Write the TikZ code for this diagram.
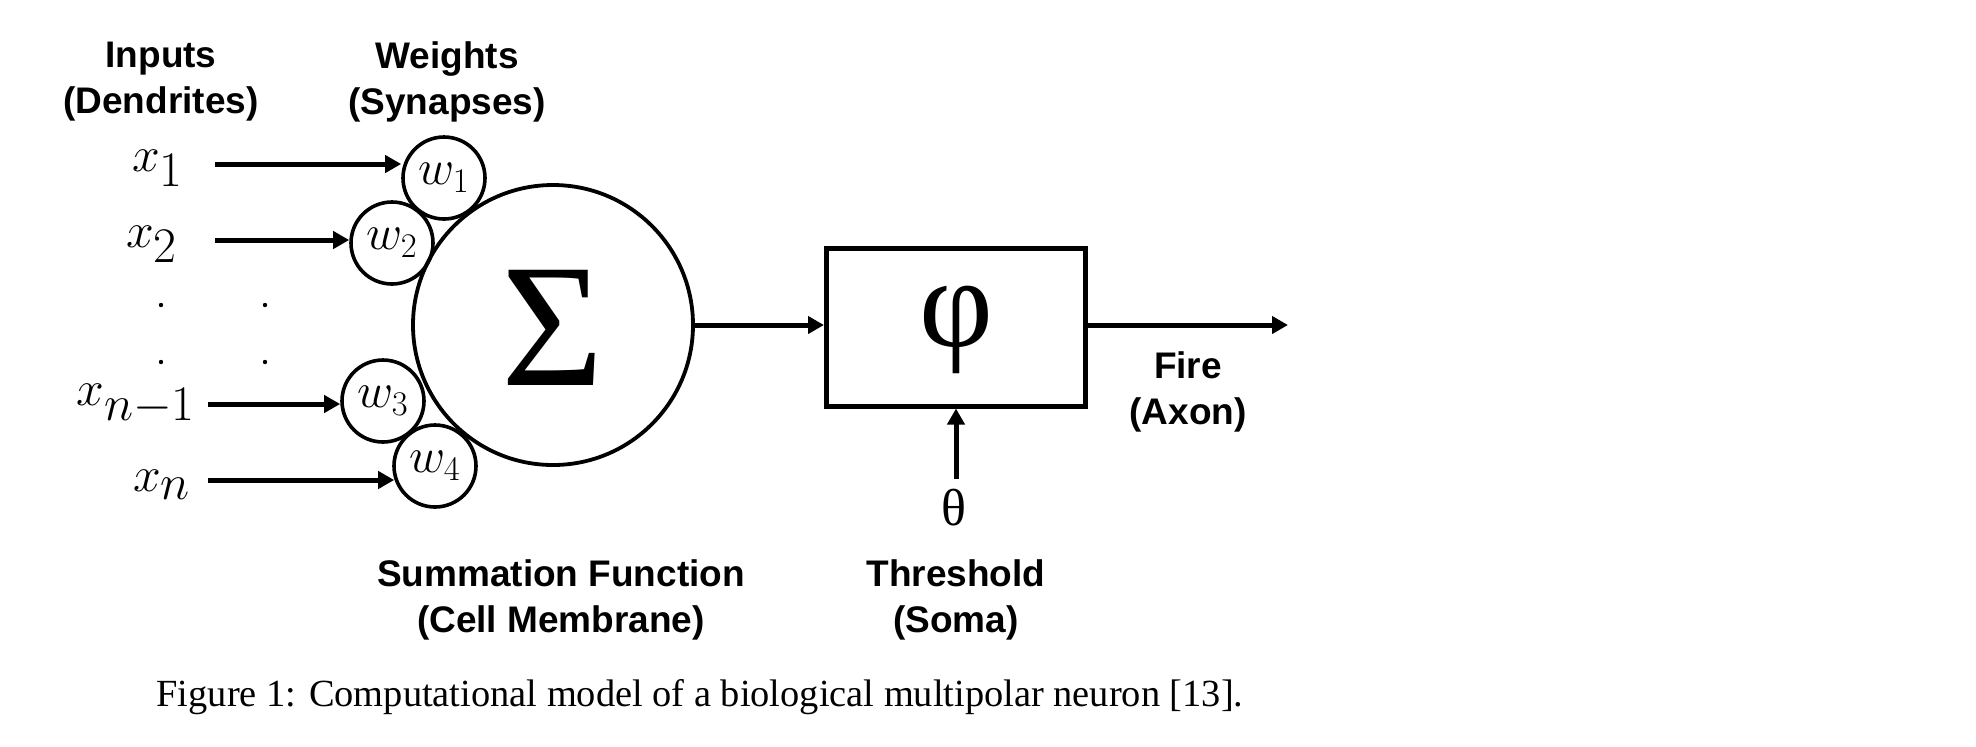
\documentclass[tikz,border=0pt]{standalone}
\usepackage{fontspec}
\setmainfont{Liberation Serif}
\newfontfamily\labelfont{Liberation Sans}
\usetikzlibrary{arrows.meta,calc}
\begin{document}
\begin{tikzpicture}[x=0.5pt,y=-0.5pt,
  lbl/.style={font=\labelfont\bfseries\fontsize{18.5}{23}\selectfont, align=center, inner sep=0pt},
  xlab/.style={font=\fontsize{37}{37}\selectfont, inner sep=0pt},
  arr/.style={line width=2.5pt,-{Triangle[length=8pt,width=8.5pt]}},
  wc/.style={circle,draw,line width=1.8pt,minimum size=41pt,inner sep=0pt,font=\fontsize{25}{25}\selectfont},
  dotmark/.style={circle,fill,inner sep=0pt,minimum size=2.2pt}]
\useasboundingbox (0,0) rectangle (1976,746);
% headers
\node[lbl] (hin) at (161,82) {Inputs\\(Dendrites)};
\node[lbl] (hw) at (447,82) {Weights\\(Synapses)};
% summation
\node[circle,draw,line width=1.9pt,minimum size=140pt,inner sep=0pt] (sum) at (553,325) {};
\node[font=\fontsize{88}{88}\selectfont, inner sep=0pt] (sig) at (553,328) {Σ};
% weights
\node[wc] (w1) at (444,178) {$w_1$};
\node[wc] (w2) at (392,243) {$w_2$};
\node[wc] (w3) at (383,401) {$w_3$};
\node[wc] (w4) at (435,466) {$w_4$};
% inputs
\node[xlab] (x1) at (158,168) {$x_1$};
\node[xlab] (x2) at (152,244) {$x_2$};
\node[xlab] (x3) at (136,404) {$x_{n-1}$};
\node[xlab] (x4) at (162,485) {$x_n$};
\coordinate (s1) at (215,164);
\coordinate (s2) at (215,240);
\coordinate (s3) at (208,404);
\coordinate (s4) at (208,480);
\draw[arr] (s1) -- (s1 -| w1.west);
\draw[arr] (s2) -- (s2 -| w2.west);
\draw[arr] (s3) -- (s3 -| w3.west);
\draw[arr] (s4) -- ($(s4 -| w4.west)+(2,0)$);
% dots
\node[dotmark] (d1) at (161,305) {};
\node[dotmark] (d2) at (265,305) {};
\node[dotmark] (d3) at (161,362) {};
\node[dotmark] (d4) at (265,362) {};
% activation box
\node[draw,line width=2.5pt,minimum width=129.5pt,minimum height=79pt,inner sep=0pt] (box) at (956,327) {};
\node[font=\fontsize{64}{64}\selectfont, inner sep=0pt] (phi) at (956,330) {φ};
\draw[arr] (sum.east |- 0,325) -- (box.west |- 0,325);
\coordinate (out) at (1288,325);
\draw[arr] (box.east |- out) -- (out);
\node[lbl] (fire) at (1188,392) {Fire\\(Axon)};
% threshold
\node[font=\fontsize{26}{26}\selectfont, inner sep=0pt] (theta) at (954,508) {θ};
\coordinate (t0) at (956,479);
\draw[arr] (t0) -- (t0 |- box.south);
% bottom labels
\node[lbl] (sumlab) at (561,600) {Summation Function\\(Cell Membrane)};
\node[lbl] (thlab) at (956,600) {Threshold\\(Soma)};
% caption
\node[font=\fontsize{19.2}{24}\selectfont, inner sep=0pt] (cap) at (700,697) {Figure 1: Computational model of a biological multipolar neuron [13].};
\end{tikzpicture}
\end{document}
